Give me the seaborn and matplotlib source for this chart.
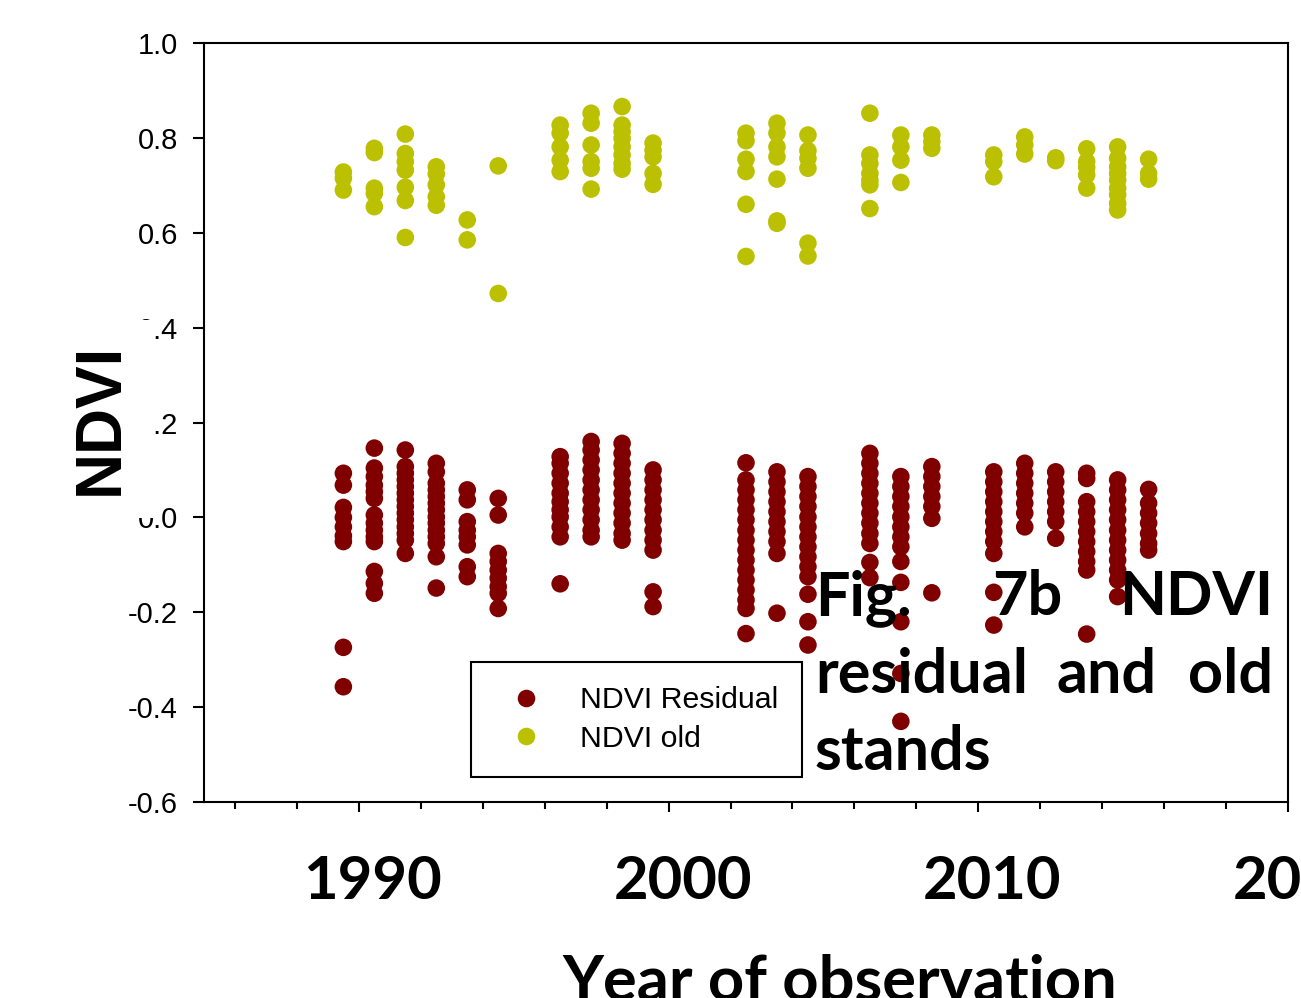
import numpy as np
import pandas as pd
import matplotlib
matplotlib.use("Agg")
import matplotlib.pyplot as plt
import matplotlib.transforms as mtrans
from matplotlib.ticker import MultipleLocator, FormatStrFormatter
import seaborn as sns

# ---- observation years (plotted at mid-year) ----
years = [1989, 1990, 1991, 1992, 1993, 1994, 1996, 1997, 1998, 1999,
         2002, 2003, 2004, 2006, 2007, 2008, 2010, 2011, 2012, 2013, 2014, 2015]

# ---- NDVI of old stands, one list per year ----
ndvi_old = [
    [0.728, 0.715, 0.690],
    [0.778, 0.769, 0.694, 0.683, 0.655],
    [0.808, 0.767, 0.750, 0.732, 0.696, 0.668, 0.590],
    [0.739, 0.724, 0.701, 0.676, 0.658],
    [0.627, 0.585],
    [0.741, 0.472],
    [0.827, 0.810, 0.781, 0.753, 0.729],
    [0.852, 0.831, 0.785, 0.750, 0.736, 0.692],
    [0.866, 0.827, 0.813, 0.799, 0.781, 0.764, 0.746, 0.734],
    [0.789, 0.774, 0.760, 0.725, 0.702],
    [0.810, 0.794, 0.755, 0.729, 0.660, 0.550],
    [0.831, 0.810, 0.781, 0.760, 0.713, 0.625, 0.620],
    [0.806, 0.773, 0.757, 0.736, 0.578, 0.551],
    [0.852, 0.764, 0.746, 0.725, 0.711, 0.701, 0.651],
    [0.806, 0.781, 0.753, 0.706],
    [0.806, 0.792, 0.778],
    [0.764, 0.750, 0.718],
    [0.802, 0.785, 0.766],
    [0.758, 0.752],
    [0.777, 0.750, 0.738, 0.722, 0.694],
    [0.781, 0.757, 0.739, 0.725, 0.711, 0.694, 0.680, 0.662, 0.648],
    [0.755, 0.725, 0.713],
]

# ---- NDVI residuals, one list per year ----
ndvi_residual = [
    [0.093, 0.068, 0.021, 0.000, -0.020, -0.039, -0.051, -0.274, -0.357],
    [0.146, 0.104, 0.086, 0.068, 0.054, 0.040, 0.005, -0.012, -0.027, -0.041,
     -0.051, -0.114, -0.139, -0.160],
    [0.142, 0.107, 0.093, 0.079, 0.065, 0.051, 0.037, 0.023, 0.009, -0.005,
     -0.020, -0.034, -0.048, -0.076],
    [0.114, 0.096, 0.072, 0.058, 0.044, 0.030, 0.016, 0.001, -0.012, -0.027,
     -0.041, -0.055, -0.083, -0.149],
    [0.058, 0.037, -0.009, -0.027, -0.041, -0.058, -0.104, -0.125],
    [0.040, 0.005, -0.076, -0.093, -0.111, -0.128, -0.146, -0.160, -0.192],
    [0.128, 0.114, 0.093, 0.072, 0.051, 0.033, 0.016, 0.001, -0.020, -0.041, -0.140],
    [0.160, 0.142, 0.121, 0.100, 0.079, 0.058, 0.037, 0.016, -0.005, -0.027, -0.041],
    [0.156, 0.135, 0.114, 0.093, 0.072, 0.051, 0.030, 0.009, -0.012, -0.034, -0.048],
    [0.100, 0.079, 0.058, 0.037, 0.016, -0.005, -0.027, -0.048, -0.069, -0.157, -0.188],
    [0.115, 0.079, 0.058, 0.037, 0.016, -0.005, -0.027, -0.048, -0.069, -0.090,
     -0.111, -0.132, -0.153, -0.174, -0.192, -0.245],
    [0.096, 0.075, 0.054, 0.033, 0.012, -0.009, -0.030, -0.051, -0.076, -0.202],
    [0.086, 0.065, 0.044, 0.023, 0.001, -0.020, -0.041, -0.062, -0.083, -0.104,
     -0.125, -0.162, -0.220, -0.269],
    [0.135, 0.114, 0.093, 0.072, 0.051, 0.030, 0.009, -0.012, -0.034, -0.055,
     -0.095, -0.127],
    [0.086, 0.065, 0.044, 0.023, 0.001, -0.020, -0.041, -0.062, -0.093, -0.137,
     -0.220, -0.329, -0.430],
    [0.107, 0.086, 0.065, 0.044, 0.023, -0.002, -0.159],
    [0.096, 0.075, 0.054, 0.033, 0.012, -0.009, -0.030, -0.051, -0.076, -0.158, -0.227],
    [0.114, 0.093, 0.072, 0.051, 0.030, 0.009, -0.020],
    [0.096, 0.075, 0.054, 0.033, 0.012, -0.009, -0.044],
    [0.093, 0.082, 0.033, 0.012, -0.009, -0.030, -0.051, -0.072, -0.093, -0.111, -0.246],
    [0.079, 0.058, 0.037, 0.016, -0.005, -0.027, -0.048, -0.069, -0.090, -0.111,
     -0.132, -0.167],
    [0.059, 0.030, 0.009, -0.012, -0.034, -0.055, -0.069],
]

series_names = ["NDVI Residual", "NDVI old"]
series_colors = {"NDVI Residual": "#800000", "NDVI old": "#BBC000"}
y_ticks = [-0.6, -0.4, -0.2, 0.0, 0.2, 0.4, 0.6, 0.8, 1.0]

rows = []
for name, table in zip(series_names, [ndvi_residual, ndvi_old]):
    for yr, vals in zip(years, table):
        for v in vals:
            rows.append((yr + 0.5, v, name))
df = pd.DataFrame(rows, columns=["year", "ndvi", "series"])

sns.set_style("ticks")
plt.rcParams["font.family"] = ["Liberation Sans", "DejaVu Sans"]
plt.rcParams.update({"text.color": "black", "axes.labelcolor": "black",
                     "xtick.color": "black", "ytick.color": "black",
                     "axes.edgecolor": "black"})
heading_font = ["Lato", "DejaVu Sans"]

W, H = 1301, 998
fig = plt.figure(figsize=(W / 100, H / 100), dpi=100)
ax = fig.add_axes([204 / W, 1 - 802 / H, 1084 / W, 759 / H])

dot_area = 160
sns.scatterplot(data=df, x="year", y="ndvi", hue="series", hue_order=series_names,
                palette=series_colors, s=dot_area, linewidth=0, edgecolor="none",
                ax=ax, zorder=3)

ax.set_xlim(1985, 2020)
ax.set_ylim(-0.6, 1.0)
ax.xaxis.set_major_locator(MultipleLocator(10))
ax.xaxis.set_minor_locator(MultipleLocator(2))
ax.set_yticks(y_ticks)
ax.yaxis.set_major_formatter(FormatStrFormatter("%.1f"))

for sp in ax.spines.values():
    sp.set_linewidth(1.5)
    sp.set_color("black")

ax.tick_params(axis="x", which="major", length=7.2, width=1.5, direction="out",
               pad=31, labelsize=43, colors="black")
ax.tick_params(axis="x", which="minor", length=5, width=1.5, direction="out",
               colors="black")
ax.tick_params(axis="y", which="major", length=8, width=1.5, direction="out",
               pad=10.8, labelsize=21, colors="black")

ax.set_xlabel("Year of observation", fontfamily=heading_font, fontweight="bold",
              fontsize=45.5, color="black")
ax.xaxis.set_label_coords((840 - 204) / 1084, -0.200)

ax.set_ylabel("NDVI", fontsize=46, fontweight="bold", color="black",
              bbox=dict(boxstyle="square,pad=0.35", fc="white", ec="none"))
ax.yaxis.set_label_coords(-0.0678, 0.5046)

handles, labels = ax.get_legend_handles_labels()
leg = ax.legend(handles, labels, loc="upper left",
                bbox_to_anchor=((471 - 204) / 1084, (802 - 662) / 759),
                borderaxespad=0, frameon=True, fancybox=False, edgecolor="black",
                framealpha=1, fontsize=21.8, borderpad=0.8, handlelength=2.0,
                handletextpad=0.8, labelspacing=0.35)
leg.get_frame().set_linewidth(1.5)
for t in leg.get_texts():
    t.set_color("black")
for h in leg.legend_handles:
    if hasattr(h, "set_sizes"):
        h.set_sizes([dot_area])
    if hasattr(h, "set_markersize"):
        h.set_markersize(np.sqrt(dot_area))

# caption block, justified word by word
def put(word, x, y, ha):
    fig.text(x / W, 1 - y / H, word, ha=ha, va="baseline", fontsize=44,
             fontweight="bold", fontfamily=heading_font, color="black", zorder=5)

put("Fig.", 815, 615, "left")
put("7b", 1027, 615, "center")
put("NDVI", 1273, 615, "right")
put("residual", 815, 693, "left")
put("and", 1107, 693, "center")
put("old", 1273, 693, "right")
put("stands", 815, 770, "left")

fig.canvas.draw()
shift = mtrans.ScaledTranslation(14 / 100, 0, fig.dpi_scale_trans)
for lab in ax.get_xticklabels():
    lab.set_fontfamily(heading_font)
    lab.set_fontweight("bold")
    lab.set_color("black")
    lab.set_transform(lab.get_transform() + shift)

fig.savefig("out.png", dpi=100)
